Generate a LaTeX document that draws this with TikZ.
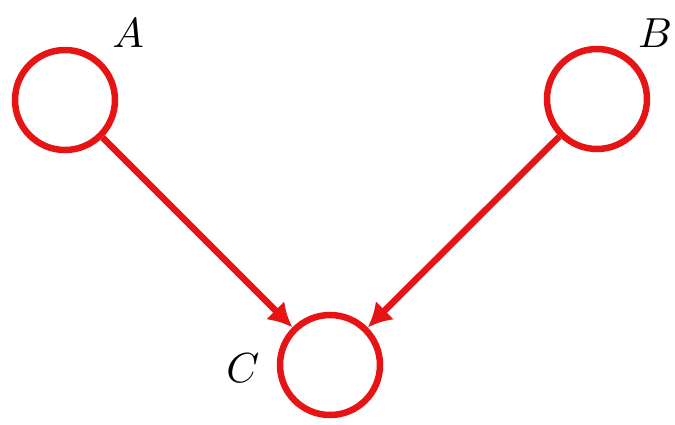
\documentclass[tikz,border=0pt]{standalone}
\usetikzlibrary{arrows.meta}
\definecolor{nodered}{RGB}{230,20,20}
\begin{document}
\begin{tikzpicture}[x=1pt,y=-1pt,
  var/.style={circle,draw=nodered,line width=6.5pt,minimum size=100pt,inner sep=0pt},
  edge/.style={draw=nodered,line width=6.5pt,-{Latex[length=24pt,width=26pt]}},
  lbl/.style={scale=4.2,inner sep=0pt}]
\useasboundingbox (0,0) rectangle (675,424);
\node[var] (A) at (65,100) {};
\node[var] (B) at (597,99) {};
\node[var] (C) at (330,365) {};
\node[lbl] (la) at (128,33) {$A$};
\node[lbl] (lb) at (655,33) {$B$};
\node[lbl] (lc) at (243,368) {$C$};
\draw[edge] (A) -- (C);
\draw[edge] (B) -- (C);
\end{tikzpicture}
\end{document}
